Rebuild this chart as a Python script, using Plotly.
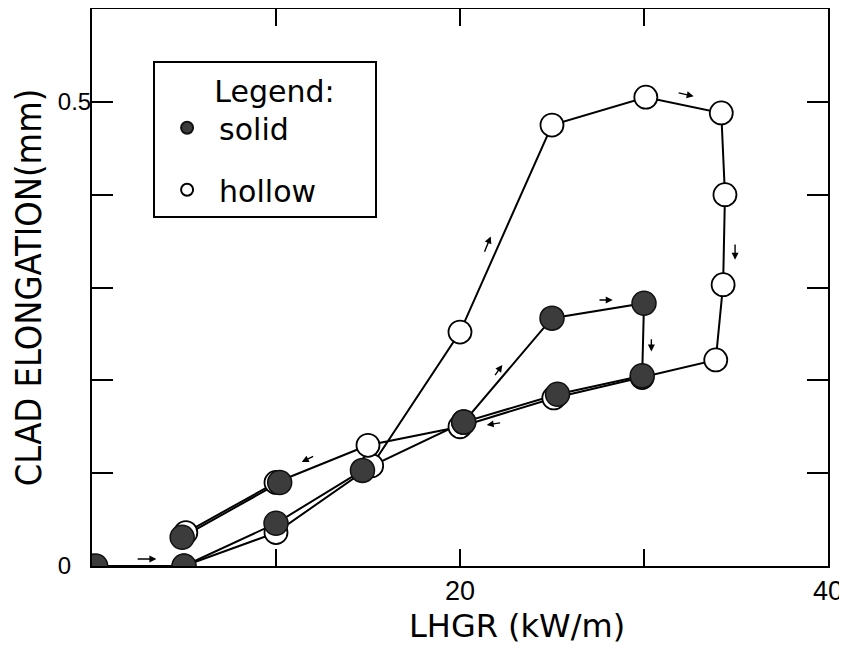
import plotly.graph_objects as go

# ---- data ----
# solid pellet: loading up to 30 kW/m, then unloading (gap where path merges with hollow path)
solid_x = [0.2, 5.0, 10.0, 14.7, 20.2, 25.0, 30.0, 29.9, 25.3, 20.2, None, 10.2, 4.9]
solid_y = [0.0, 0.0, 0.046, 0.103, 0.155, 0.267, 0.283, 0.205, 0.185, 0.155, None, 0.090, 0.031]

# hollow pellet: loading up to 34 kW/m, hold, then unloading
hollow_x = [0.0, 5.0, 10.0, 15.2, 20.0, 25.0, 30.1, 34.2, 34.4, 34.3, 33.9, 29.9, 25.1, 20.0, 15.0, 10.0, 5.1]
hollow_y = [0.0, 0.0, 0.036, 0.108, 0.252, 0.475, 0.505, 0.488, 0.400, 0.303, 0.222, 0.203, 0.181, 0.150, 0.130, 0.090, 0.036]

# small direction arrows (tail -> head)
arrow_tail_x = [2.4, 12.1, 21.3, 31.8, 34.95, 27.5, 30.4, 21.85, 22.26]
arrow_tail_y = [0.0075, 0.119, 0.337, 0.510, 0.348, 0.2866, 0.246, 0.204, 0.1544]
arrow_head_x = [3.5, 11.4, 21.67, 32.7, 34.95, 28.3, 30.4, 22.3, 21.45]
arrow_head_y = [0.0075, 0.112, 0.355, 0.506, 0.330, 0.2866, 0.231, 0.2166, 0.152]

x_tickvals = [0, 10, 20, 30, 40]
x_ticktext = ["", "", "20", "", "40"]
y_tickvals = [0, 0.1, 0.2, 0.3, 0.4, 0.5]
y_ticktext = ["0\u00a0\u00a0\u00a0", "", "", "", "", "0.5"]

NB = "\u00a0"
legend_title = NB * 6 + "Legend:" + NB * 4

SOLID_FILL = "#3c3c3c"
X_TITLE_FONT = dict(family="DejaVu Sans", size=32, color="black")
Y_TITLE_FONT = dict(family="Liberation Sans Narrow, DejaVu Sans Condensed, Arial Narrow, sans-serif",
                    size=36, color="black")
TICK_FONT_X = dict(family="Liberation Sans, Arial", size=27, color="black")
TICK_FONT_Y = dict(family="Liberation Sans, Arial", size=24, color="black")
LEG_FONT = dict(family="DejaVu Sans", size=30, color="black")

fig = go.Figure()

# connecting lines (drawn first, beneath all markers)
fig.add_trace(go.Scatter(x=hollow_x, y=hollow_y, mode="lines",
                         line=dict(color="black", width=2), showlegend=False,
                         hoverinfo="skip"))
fig.add_trace(go.Scatter(x=solid_x, y=solid_y, mode="lines", connectgaps=False,
                         line=dict(color="black", width=2), showlegend=False,
                         hoverinfo="skip"))

# markers: hollow below, solid on top
fig.add_trace(go.Scatter(x=hollow_x, y=hollow_y, mode="markers", name="hollow",
                         legendgroup="hollow", legendrank=2,
                         marker=dict(symbol="circle", size=23, color="white",
                                     line=dict(color="black", width=1.8))))
fig.add_trace(go.Scatter(x=solid_x, y=solid_y, mode="markers", name="solid",
                         legendgroup="solid", legendrank=1,
                         marker=dict(symbol="circle", size=24, color=SOLID_FILL,
                                     line=dict(color="#111111", width=1.5))))

for tx, ty, hx, hy in zip(arrow_tail_x, arrow_tail_y, arrow_head_x, arrow_head_y):
    fig.add_annotation(x=hx, y=hy, ax=tx, ay=ty, xref="x", yref="y",
                       axref="x", ayref="y", text="", showarrow=True,
                       arrowhead=2, arrowsize=1, arrowwidth=1.4,
                       arrowcolor="black", standoff=0, startstandoff=0)

# x-axis title (sits right of the plot centre in the reference)
fig.add_annotation(text="LHGR (kW/m)", xref="paper", yref="paper",
                   x=0.577, y=-0.108, xanchor="center", yanchor="middle",
                   showarrow=False, font=X_TITLE_FONT)

# page body has an 8px margin: the figure is sized so that the plot area
# lands at x 92..828, y 9..566 of the 847x649 window
fig.update_layout(
    width=839, height=641,
    margin=dict(l=84, r=19, t=1, b=83),
    paper_bgcolor="white", plot_bgcolor="white",
    showlegend=True,
    legend=dict(
        x=0.083, y=0.907, xanchor="left", yanchor="top",
        bgcolor="white", bordercolor="black", borderwidth=2,
        font=LEG_FONT,
        title=dict(text=legend_title, font=LEG_FONT, side="top"),
        traceorder="grouped", tracegroupgap=20,
        itemsizing="constant", itemwidth=54,
    ),
)

fig.update_xaxes(
    range=[0, 40], tickmode="array", tickvals=x_tickvals, ticktext=x_ticktext,
    ticks="inside", ticklen=17, tickwidth=2, tickcolor="black",
    showline=True, linecolor="black", linewidth=2, mirror="ticks",
    showgrid=False, zeroline=False, tickfont=TICK_FONT_X,
    automargin=False,
)
fig.update_yaxes(
    range=[0, 0.6], tickmode="array", tickvals=y_tickvals, ticktext=y_ticktext,
    ticks="inside", ticklen=21, tickwidth=2, tickcolor="black",
    showline=True, linecolor="black", linewidth=2, mirror="ticks",
    showgrid=False, zeroline=False, tickfont=TICK_FONT_Y, ticklabelstandoff=-6,
    title=dict(text="CLAD ELONGATION(mm)", font=Y_TITLE_FONT, standoff=10),
    automargin=False,
)

fig.write_html("out.html")
